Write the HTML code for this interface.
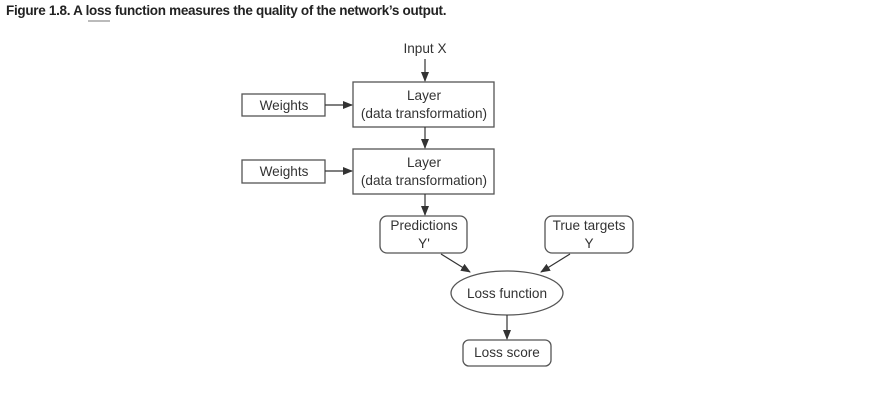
<!DOCTYPE html>
<html><head><style>
body{margin:0;background:#fff;width:869px;height:403px;overflow:hidden}
.t{position:absolute;left:6px;top:3px;font:bold 13.5px "Liberation Sans",sans-serif;color:#222;letter-spacing:-0.3px}
.u{position:absolute;left:88px;top:20px;width:22px;height:2px;background:#bbb}
</style></head><body>
<div class="t">Figure 1.8. A loss function measures the quality of the network’s output.</div>
<div class="u"></div>
<svg width="869" height="403" style="position:absolute;left:0;top:0" font-family="Liberation Sans, sans-serif" font-size="13.6" fill="#333">
<defs><marker id="a" markerWidth="10" markerHeight="8" refX="9" refY="4" orient="auto" markerUnits="userSpaceOnUse"><path d="M0,0L10,4L0,8z" fill="#333"/></marker></defs>
<g stroke="#555" stroke-width="1.3" fill="none">
<rect x="242" y="94" width="83" height="22"/>
<rect x="242" y="160" width="83" height="23"/>
<rect x="353" y="82" width="141" height="45"/>
<rect x="353" y="149" width="141" height="45"/>
<rect x="380" y="216" width="87" height="37" rx="7"/>
<rect x="545" y="216" width="88" height="37" rx="7"/>
<ellipse cx="507" cy="293" rx="56" ry="22"/>
<rect x="463" y="340" width="88" height="26" rx="6"/>
</g>
<g stroke="#333" stroke-width="1.2" marker-end="url(#a)">
<line x1="425" y1="59" x2="425" y2="81"/>
<line x1="325" y1="105" x2="352" y2="105"/>
<line x1="425" y1="127" x2="425" y2="148"/>
<line x1="325" y1="171" x2="352" y2="171"/>
<line x1="425" y1="194" x2="425" y2="215"/>
<line x1="441" y1="254" x2="470" y2="272"/>
<line x1="570" y1="254" x2="541" y2="272"/>
<line x1="507" y1="315" x2="507" y2="339"/>
</g>
<g text-anchor="middle">
<text x="425" y="53">Input X</text>
<text x="284" y="110">Weights</text>
<text x="284" y="176">Weights</text>
<text x="424" y="100">Layer</text>
<text x="424" y="118">(data transformation)</text>
<text x="424" y="167">Layer</text>
<text x="424" y="185">(data transformation)</text>
<text x="424" y="230">Predictions</text>
<text x="424" y="248">Y'</text>
<text x="589" y="230">True targets</text>
<text x="589" y="248">Y</text>
<text x="507" y="298">Loss function</text>
<text x="507" y="357">Loss score</text>
</g>
</svg>
</body></html>
